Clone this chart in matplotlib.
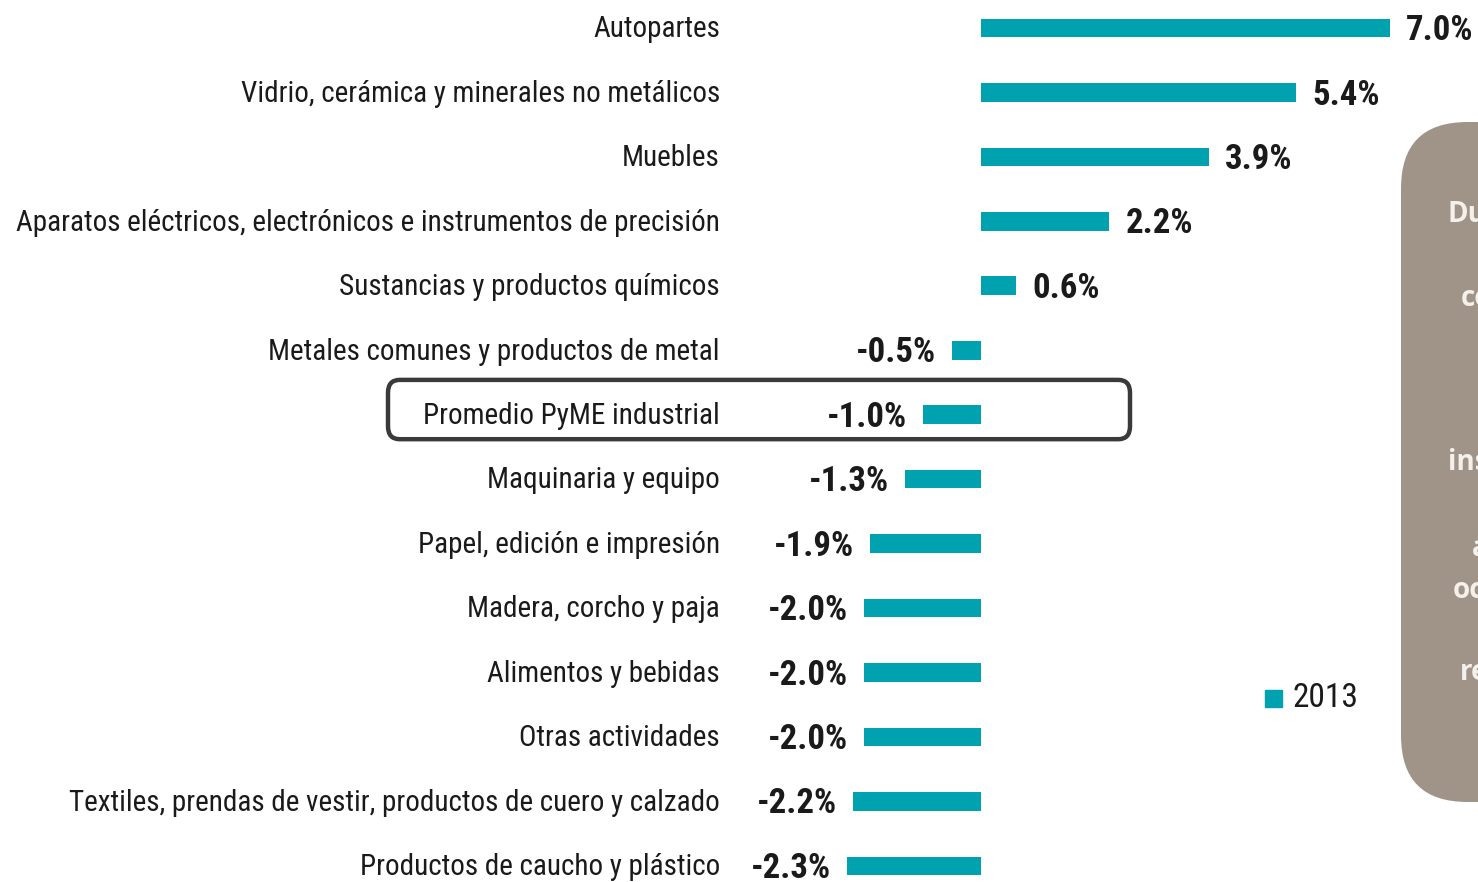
import matplotlib
matplotlib.use("Agg")
import matplotlib.pyplot as plt
from matplotlib import font_manager as fm
from matplotlib.patches import FancyBboxPatch

# data
categories = [
    "Autopartes",
    "Vidrio, cerámica y minerales no metálicos",
    "Muebles",
    "Aparatos eléctricos, electrónicos e instrumentos de precisión",
    "Sustancias y productos químicos",
    "Metales comunes y productos de metal",
    "Promedio PyME industrial",
    "Maquinaria y equipo",
    "Papel, edición e impresión",
    "Madera, corcho y paja",
    "Alimentos y bebidas",
    "Otras actividades",
    "Textiles, prendas de vestir, productos de cuero y calzado",
    "Productos de caucho y plástico",
]
values = [7.0, 5.4, 3.9, 2.2, 0.6, -0.5, -1.0, -1.3, -1.9, -2.0, -2.0, -2.0, -2.2, -2.3]
series_name = "2013"
highlight = "Promedio PyME industrial"
# visible fragments of the side note (cut off at the right edge)
note_fragments = ["Du", "co", "ins", "a", "oc", "re"]

# pick a narrow font if there is one
family = "DejaVu Sans"
for cand in ["Liberation Sans Narrow", "Roboto Condensed", "Open Sans Condensed", "Liberation Sans"]:
    try:
        fm.findfont(cand, fallback_to_default=False)
        family = cand
        break
    except Exception:
        pass
plt.rcParams["font.family"] = [family, "DejaVu Sans"]

W, H = 1478, 882
fig = plt.figure(figsize=(W / 100, H / 100), dpi=100)
ax = fig.add_axes([0, 0, 1, 1])

# pixel mapping: zero at x=981, 58.4 px per percent; rows start at y=28, 64.45 px apart
px_per = 58.4
x0 = 981
row0, row_step = 28, 64.45
ax.set_xlim(-x0 / px_per, (W - x0) / px_per)
ax.set_ylim((H - row0) / row_step, -row0 / row_step)
ax.axis("off")

bar_color = "#00A2B0"
ys = list(range(len(categories)))
ax.barh(ys, values, height=0.29, color=bar_color, zorder=3)

label_x = (720 - x0) / px_per
off = 16 / px_per
for y, cat, v in zip(ys, categories, values):
    ax.text(label_x, y + 0.02, cat, ha="right", va="center", fontsize=21, color="#1a1a1a")
    s = f"{v:.1f}%"
    if v >= 0:
        ax.text(v + off, y + 0.04, s, ha="left", va="center", fontsize=25,
                fontweight="bold", color="#1a1a1a")
    else:
        ax.text(v - off, y + 0.04, s, ha="right", va="center", fontsize=25,
                fontweight="bold", color="#1a1a1a")

# box around the average row
hy = categories.index(highlight)
bx0, bx1 = (388 - x0) / px_per, (1130 - x0) / px_per
box = FancyBboxPatch((bx0, hy - 0.54), bx1 - bx0, 0.92,
                     boxstyle="round,pad=0,rounding_size=0.2",
                     fill=False, edgecolor="#3a3a3a", linewidth=3.2, zorder=4)
ax.add_patch(box)

# legend
fig.patches.append(plt.Rectangle((1265 / W, 1 - 707 / H), 17 / W, 17 / H,
                                 transform=fig.transFigure, color=bar_color))
fig.text(1292 / W, 1 - 698 / H, series_name, ha="left", va="center",
         fontsize=24, color="#1a1a1a")

# grey side note, cut off by the figure edge
note = FancyBboxPatch((1401 / W, 1 - 802 / H), 200 / W, 680 / H,
                      boxstyle="round,pad=0,rounding_size=0.045",
                      transform=fig.transFigure, facecolor="#A09488",
                      edgecolor="none", mutation_aspect=W / H)
fig.patches.append(note)
frag_pos = [(1447, 215), (1461, 298), (1448, 463), (1472, 548), (1453, 590), (1460, 672)]
for t, (px, py) in zip(note_fragments, frag_pos):
    fig.text(px / W, 1 - py / H, t, ha="left", va="center", fontsize=20,
             fontweight="bold", color="#F4F0EC", family=["Open Sans", "DejaVu Sans"])

fig.savefig("out.png", dpi=100)
